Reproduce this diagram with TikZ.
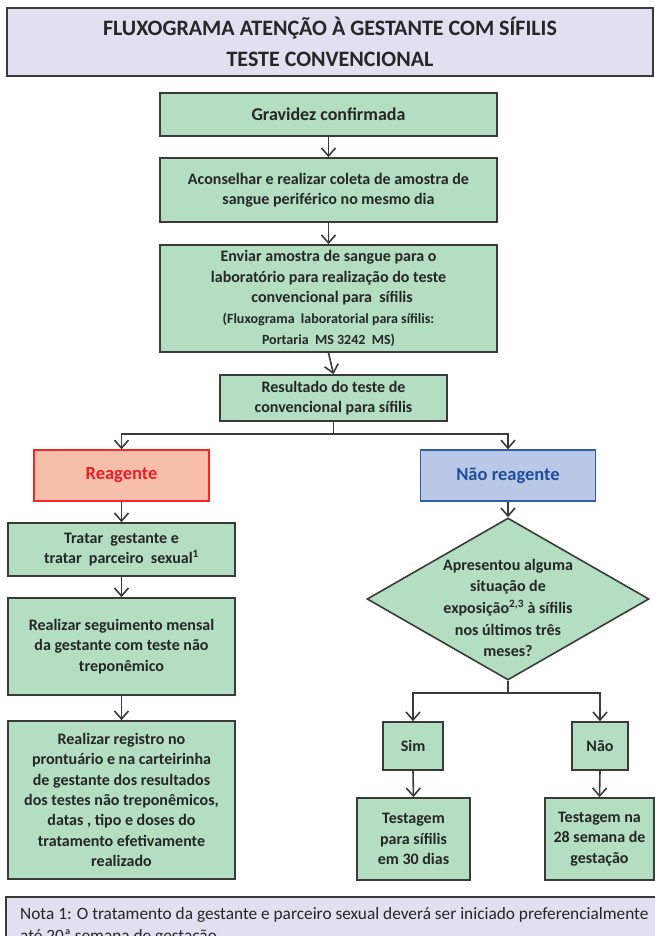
\documentclass[tikz,border=0pt]{standalone}
\usepackage{fontspec}
\setmainfont{Carlito}
\usetikzlibrary{arrows.meta,shapes.geometric}

\definecolor{boxgreen}{HTML}{B3DEC1}
\definecolor{lavender}{HTML}{E1DFF0}
\definecolor{linec}{HTML}{3A3A3A}
\definecolor{txt}{HTML}{262626}
\definecolor{reagfill}{HTML}{F8BFA8}
\definecolor{reagline}{HTML}{F0282C}
\definecolor{reagtxt}{HTML}{E8202A}
\definecolor{nreagfill}{HTML}{B9C8E6}
\definecolor{nreagline}{HTML}{2E5FA8}
\definecolor{nreagtxt}{HTML}{1F4E9C}

\newcommand{\smalltxt}{\fontsize{14}{18}\selectfont}

\tikzset{
  stepbox/.style={draw=linec, fill=boxgreen, line width=1.6pt, inner sep=0pt,
    align=center, text=txt, font=\bfseries\fontsize{16}{20.3}\selectfont},
  % leaves a little more room above the text block than below it
  lowtext/.style={execute at begin node={\mbox{}\\[#1]}},
  lowtext/.default=-1pt,
  arr/.style={draw=linec, line width=1.6pt,
    -{Straight Barb[length=8pt,width=14pt]}},
  plain/.style={draw=linec, line width=1.6pt},
}

\begin{document}
\begin{tikzpicture}[x=1pt,y=-1pt]
\useasboundingbox (0,0) rectangle (655,936);
\clip (0,0) rectangle (655,936);

% title
\node[draw=linec, fill=lavender, line width=1.6pt, inner sep=0pt,
  minimum width=646pt, minimum height=68pt, align=center, text=txt,
  font=\bfseries\fontsize{22}{31}\selectfont] (title) at (330,42)
  {FLUXOGRAMA ATENÇÃO À GESTANTE COM SÍFILIS\\TESTE CONVENCIONAL};

% main column
\node[stepbox, minimum width=337pt, minimum height=43pt,
  font=\bfseries\fontsize{18}{22}\selectfont] (g) at (328.5,114.5)
  {Gravidez confirmada};
\node[stepbox, lowtext, minimum width=337pt, minimum height=64pt] (a) at (328.5,190)
  {Aconselhar e realizar coleta de amostra de\\sangue periférico no mesmo dia};
\node[stepbox, lowtext=1pt, minimum width=337pt, minimum height=107pt] (e) at (328.5,298.5)
  {Enviar amostra de sangue para o\\laboratório para realização do teste\\
   \ \ convencional para \ sífilis\\[1pt]
   \smalltxt (Fluxograma \ laboratorial para sífilis:\\
   \smalltxt Portaria \ MS 3242 \ MS)};
\node[stepbox, minimum width=227pt, minimum height=46pt] (r) at (333.5,398)
  {Resultado do teste de\\convencional para sífilis};

% results
\node[draw=reagline, fill=reagfill, line width=1.3pt, minimum width=175pt,
  minimum height=51pt, text=reagtxt, font=\bfseries\fontsize{18.5}{22}\selectfont]
  (reag) at (121.5,475.5) {Reagente};
\node[draw=nreagline, fill=nreagfill, line width=1.3pt, minimum width=175pt,
  minimum height=51pt, text=nreagtxt, font=\bfseries\fontsize{18.5}{22}\selectfont]
  (nreag) at (508,475.5) {Não reagente};

% reactive branch
\node[stepbox, lowtext, minimum width=227pt, minimum height=53pt] (t1) at (121.5,549.5)
  {Tratar \ gestante e\\tratar \ parceiro \ sexual\textsuperscript{1}};
\node[stepbox, lowtext, minimum width=227pt, minimum height=97pt] (t2) at (121.5,646.5)
  {Realizar seguimento mensal\\da gestante com teste não\\treponêmico};
\node[stepbox, lowtext=-4pt, minimum width=227pt, minimum height=158pt] (t3) at (121.5,800)
  {Realizar registro no\\prontuário e na carteirinha\\de gestante dos resultados\\
   dos testes não treponêmicos,\\datas , tipo e doses do\\tratamento efetivamente\\
   realizado};

% non-reactive branch
\node[draw=linec, fill=boxgreen, line width=1.6pt, diamond, inner sep=0pt,
  minimum width=282pt, minimum height=162pt] (q) at (508,599) {};
\node[align=center, text=txt, font=\bfseries\fontsize{16}{21.7}\selectfont]
  (qtext) at (508,608)
  {Apresentou alguma\\situação de\\exposição\textsuperscript{2,3} à sífilis\\
   nos últimos três\\meses?};
\node[stepbox, minimum width=60pt, minimum height=48pt] (sim) at (413,746)
  {Sim};
\node[stepbox, minimum width=56pt, minimum height=48pt] (nao) at (600,746)
  {Não};
\node[stepbox, minimum width=113pt, minimum height=82pt] (s1) at (413.5,839)
  {Testagem\\para sífilis\\em 30 dias};
\node[stepbox, minimum width=109pt, minimum height=82pt] (s2) at (599.5,839)
  {Testagem na\\28 semana de\\gestação};

% note
\node[draw=linec, fill=lavender, line width=1.6pt, minimum width=650pt,
  minimum height=60pt, inner sep=0pt] (note) at (331,927) {};
\node[anchor=north west, align=left, text=txt, inner sep=0pt,
  font=\fontsize{17.3}{22}\selectfont] (notetext) at (20,907)
  {Nota 1: O tratamento da gestante e parceiro sexual deverá ser iniciado preferencialmente\\
   até 20ª semana de gestação.};

% connectors
\draw[arr] (g.south) -- (a.north);
\draw[arr] (a.south) -- (e.north);
\draw[arr] (e.south) -- (r.north);
\draw[plain] (r.south) -- ++(0,12) coordinate (split);
\draw[arr] (split) -| (reag.north);
\draw[arr] (split) -| (nreag.north);
\draw[arr] (reag.south) -- (t1.north);
\draw[arr] (t1.south) -- (t2.north);
\draw[arr] (t2.south) -- (t3.north);
\draw[arr] (nreag.south) -- (q.north);
\draw[plain] (q.south) -- ++(0,12) coordinate (qsplit);
\draw[arr] (qsplit) -| (sim.north);
\draw[arr] (qsplit) -| (nao.north);
\draw[arr] (sim.south) -- (s1.north);
\draw[arr] (nao.south) -- (s2.north);
\end{tikzpicture}
\end{document}
